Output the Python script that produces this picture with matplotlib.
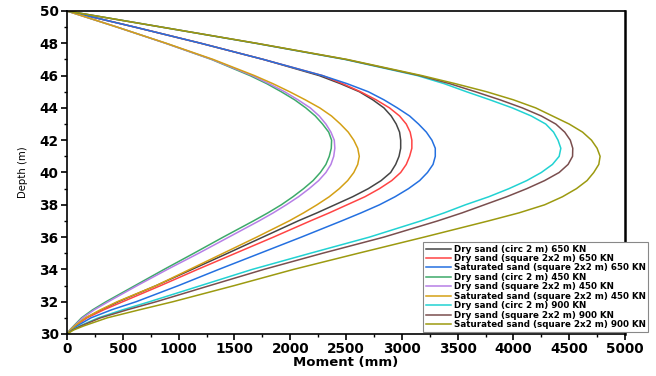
import numpy as np
import matplotlib
matplotlib.use('Agg')
import matplotlib.pyplot as plt
from matplotlib.ticker import MultipleLocator

# depth (m) at which the bending moment was sampled
depth = [50, 49, 48, 47, 46, 45.5, 45, 44.5, 44, 43.5, 43, 42.5, 42, 41.5, 41,
         40.5, 40, 39.5, 39, 38.5, 38, 37.5, 37, 36, 35, 34, 33, 32, 31.5, 31,
         30.5, 30.25, 30]

# moment along the pile for each case
dry_circ_650 = [0, 610, 1200, 1760, 2260, 2450, 2620, 2740, 2840, 2905, 2950,
                2980, 2990, 2990, 2975, 2945, 2900, 2815, 2700, 2560, 2400,
                2240, 2070, 1755, 1440, 1120, 800, 460, 310, 170, 72, 30, 0]
dry_sq_650 = [0, 610, 1200, 1760, 2290, 2470, 2630, 2770, 2890, 2980, 3040,
              3075, 3090, 3090, 3070, 3040, 2990, 2910, 2800, 2670, 2510,
              2350, 2180, 1850, 1510, 1170, 840, 500, 330, 180, 75, 32, 0]
sat_sq_650 = [0, 610, 1200, 1760, 2290, 2510, 2700, 2840, 2960, 3070, 3150,
              3220, 3270, 3300, 3300, 3280, 3230, 3160, 3060, 2940, 2800,
              2635, 2460, 2100, 1730, 1360, 1000, 620, 400, 215, 90, 38, 0]
dry_circ_450 = [0, 450, 885, 1295, 1640, 1790, 1920, 2040, 2140, 2225, 2290,
                2345, 2371, 2368, 2350, 2320, 2270, 2205, 2120, 2025, 1920,
                1800, 1670, 1400, 1137, 870, 610, 350, 230, 130, 60, 25, 0]
dry_sq_450 = [0, 450, 885, 1300, 1660, 1810, 1950, 2070, 2180, 2260, 2320,
              2365, 2395, 2400, 2390, 2365, 2320, 2255, 2170, 2075, 1965,
              1848, 1720, 1450, 1180, 900, 630, 370, 245, 140, 65, 27, 0]
sat_sq_450 = [0, 450, 890, 1310, 1680, 1845, 1995, 2135, 2265, 2370, 2450,
              2520, 2570, 2605, 2619, 2605, 2570, 2515, 2440, 2350, 2240,
              2120, 1990, 1700, 1400, 1100, 800, 450, 300, 165, 70, 30, 0]
dry_circ_900 = [0, 850, 1690, 2490, 3140, 3380, 3580, 3790, 3990, 4160, 4290,
                4360, 4400, 4425, 4410, 4350, 4250, 4120, 3960, 3780, 3570,
                3380, 3170, 2710, 2180, 1660, 1200, 740, 500, 280, 115, 45, 0]
dry_sq_900 = [0, 850, 1695, 2500, 3160, 3430, 3660, 3880, 4080, 4250, 4380,
              4460, 4510, 4532, 4530, 4490, 4410, 4280, 4120, 3940, 3740,
              3540, 3320, 2840, 2290, 1764, 1280, 800, 540, 300, 125, 48, 0]
sat_sq_900 = [0, 850, 1700, 2510, 3180, 3480, 3760, 4000, 4200, 4350, 4500,
              4620, 4700, 4750, 4777, 4765, 4720, 4660, 4565, 4440, 4280,
              4050, 3775, 3200, 2610, 2030, 1500, 950, 650, 360, 150, 60, 0]

labels = ['Dry sand (circ 2 m) 650 KN',
          'Dry sand (square 2x2 m) 650 KN',
          'Saturated sand (square 2x2 m) 650 KN',
          'Dry sand (circ 2 m) 450 KN',
          'Dry sand (square 2x2 m) 450 KN',
          'Saturated sand (square 2x2 m) 450 KN',
          'Dry sand (circ 2 m) 900 KN',
          'Dry sand (square 2x2 m) 900 KN',
          'Saturated sand (square 2x2 m) 900 KN']
series = [dry_circ_650, dry_sq_650, sat_sq_650,
          dry_circ_450, dry_sq_450, sat_sq_450,
          dry_circ_900, dry_sq_900, sat_sq_900]
colors = ['#454545', '#FF4444', '#2470E0',
          '#3DAA6A', '#B67FE6', '#D4A015',
          '#22D2D2', '#7A4E4E', '#9C9A10']

plt.rcParams['font.family'] = 'DejaVu Sans'

fig = plt.figure(figsize=(6.56, 3.76), dpi=100)
ax = fig.add_axes([67/656, 1-334/376, (625-67)/656, (334-11)/376])

for m, lab, c in zip(series, labels, colors):
    ax.plot(m, depth, color=c, lw=1.1, label=lab)

ax.set_xlim(0, 5000)
ax.set_ylim(30, 50)
ax.xaxis.set_major_locator(MultipleLocator(500))
ax.xaxis.set_minor_locator(MultipleLocator(250))
ax.yaxis.set_major_locator(MultipleLocator(2))
ax.yaxis.set_minor_locator(MultipleLocator(1))
ax.tick_params(which='major', direction='out', length=4, width=1.2, labelsize=9.8, pad=2)
ax.tick_params(which='minor', direction='out', length=2.5, width=1.0)
for lbl in ax.get_xticklabels() + ax.get_yticklabels():
    lbl.set_fontweight('bold')
for side in ['left', 'bottom', 'top']:
    ax.spines[side].set_linewidth(1.2)
ax.spines['right'].set_linewidth(1.8)

ax.set_xlabel('Moment (mm)', fontsize=9.5, fontweight='bold', labelpad=0)
ax.set_ylabel('Depth (m)', fontsize=7.3, labelpad=8)

leg = fig.legend(loc='upper left', bbox_to_anchor=(423/656, 1-242/376),
                 prop={'weight': 'bold', 'size': 6.3},
                 frameon=True, fancybox=False, framealpha=1, edgecolor='#888888',
                 handlelength=2.9, labelspacing=0.05, borderpad=0.3,
                 handletextpad=0.3, borderaxespad=0)
leg.get_frame().set_linewidth(0.8)

fig.savefig('out.png', dpi=100)
